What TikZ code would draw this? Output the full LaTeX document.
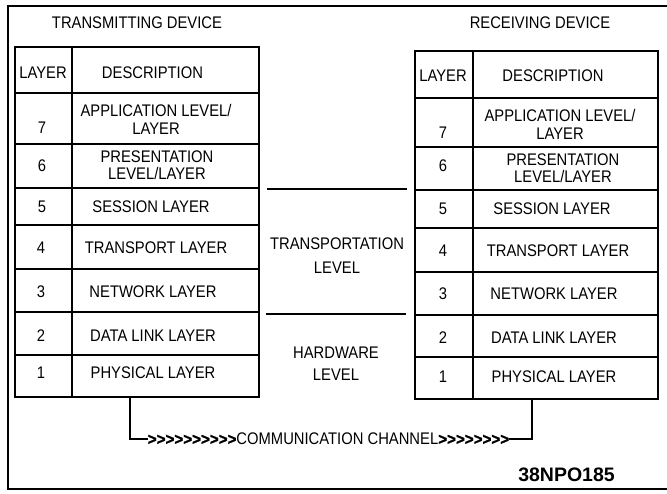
\documentclass[tikz,border=0pt]{standalone}
\usepackage{fontspec}
\newfontfamily\tf[FakeStretch=0.88]{Liberation Sans}
\newfontfamily\chf[FakeStretch=0.92,Ligatures=TeXOff,FakeBold=1.2]{Liberation Sans Bold}
\newfontfamily\idf{Liberation Sans}
\begin{document}
\begin{tikzpicture}[x=1pt,y=-1pt,
  txt/.style={font=\tf\fontsize{16.8}{17.3}\selectfont, inner sep=0pt, align=center},
  mid/.style={font=\tf\fontsize{16.8}{24}\selectfont, inner sep=0pt, align=center},
  frame/.style={line width=1.8pt},
  tbl/.style={line width=2.4pt},
  rule/.style={line width=2.2pt},
  chan/.style={line width=1.8pt}]
\useasboundingbox (0,0) rectangle (667,493);

% outer frame (open on the right, cropped)
\draw[frame] (680,6) -- (8,6) -- (8,489) -- (680,489);

% ---- transmitting device ----
\node[txt] (ttitle) at (137,22.7) {TRANSMITTING DEVICE};
\draw[tbl] (15,47) rectangle (259,397);
\draw[rule] (72,47) -- (72,397);
\foreach \y in {93,144,188,225,269,312,355} \draw[rule] (15,\y) -- (259,\y);
\node[txt] (lh1) at (43,73) {LAYER};
\node[txt] (lh2) at (152.5,73) {DESCRIPTION};
\node[txt] (l7) at (42,128) {7};
\node[txt] (l7d) at (156,119.5) {APPLICATION LEVEL/\\LAYER};
\node[txt] (l6) at (42,166) {6};
\node[txt] (l6d) at (157,165) {PRESENTATION\\LEVEL/LAYER};
\node[txt] (l5) at (42,207) {5};
\node[txt] (l5d) at (151,207) {SESSION LAYER};
\node[txt] (l4) at (41,248) {4};
\node[txt] (l4d) at (156,248) {TRANSPORT LAYER};
\node[txt] (l3) at (41,292) {3};
\node[txt] (l3d) at (153,292) {NETWORK LAYER};
\node[txt] (l2) at (41,336) {2};
\node[txt] (l2d) at (153,336) {DATA LINK LAYER};
\node[txt] (l1) at (41,373) {1};
\node[txt] (l1d) at (153,373) {PHYSICAL LAYER};

% ---- receiving device ----
\node[txt] (rtitle) at (540,23) {RECEIVING DEVICE};
\draw[tbl] (415,51) rectangle (658,399);
\draw[rule] (473,51) -- (473,399);
\foreach \y in {98,147,190,228,272,315,357} \draw[rule] (415,\y) -- (658,\y);
\node[txt] (rh1) at (443,76) {LAYER};
\node[txt] (rh2) at (553,76) {DESCRIPTION};
\node[txt] (r7) at (443,133) {7};
\node[txt] (r7d) at (560,124.5) {APPLICATION LEVEL/\\LAYER};
\node[txt] (r6) at (443,166) {6};
\node[txt] (r6d) at (563,168.5) {PRESENTATION\\LEVEL/LAYER};
\node[txt] (r5) at (443,209) {5};
\node[txt] (r5d) at (552,209) {SESSION LAYER};
\node[txt] (r4) at (443,251) {4};
\node[txt] (r4d) at (558,251) {TRANSPORT LAYER};
\node[txt] (r3) at (443,294) {3};
\node[txt] (r3d) at (554,294) {NETWORK LAYER};
\node[txt] (r2) at (443,338) {2};
\node[txt] (r2d) at (554,338) {DATA LINK LAYER};
\node[txt] (r1) at (443,377) {1};
\node[txt] (r1d) at (554,377) {PHYSICAL LAYER};

% ---- middle levels ----
\draw[rule] (267,189) -- (407,189);
\draw[rule] (266,314) -- (406,314);
\node[mid] (tlev) at (337,255.5) {TRANSPORTATION\\LEVEL};
\node[mid, font=\tf\fontsize{16.8}{22}\selectfont] (hlev) at (336,364) {HARDWARE\\LEVEL};

% ---- communication channel ----
\coordinate (lchan) at (130,397);
\coordinate (rchan) at (532,399);
\node[txt] (chtext) at (328.5,439) {{\chf\fontsize{16.5}{17}\selectfont >>>>>>>>>>}COMMUNICATION CHANNEL{\chf\fontsize{16.5}{17}\selectfont >>>>>>>>}};
\draw[chan] (lchan) |- (chtext.west);
\draw[chan] (chtext.east) -| (rchan);

\node[inner sep=0pt, font=\idf\bfseries\fontsize{19.5}{22}\selectfont] (fig) at (566.5,475) {38NPO185};
\end{tikzpicture}
\end{document}
